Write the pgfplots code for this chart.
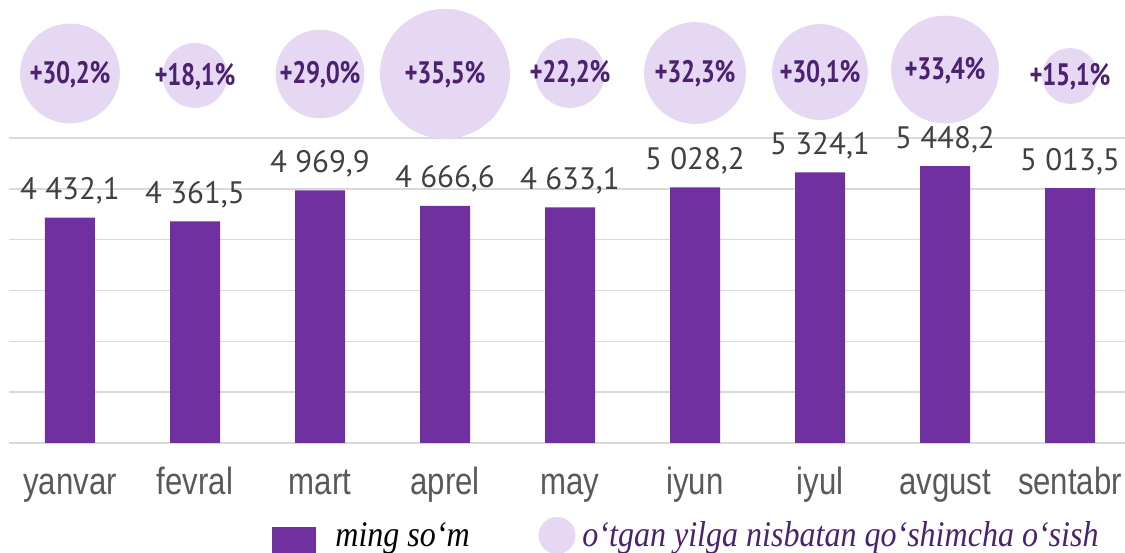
\documentclass[border=0pt]{standalone}
\usepackage{fontspec}
\usepackage{pgfplots}
\pgfplotsset{compat=1.18}
\usepackage{pgfplotstable}
\setmainfont{PT Sans}
\newfontfamily\narrowfont[FakeStretch=0.82]{Liberation Sans}
\newfontfamily\pctfont[FakeStretch=0.8,LetterSpace=-1]{PT Sans}
\newfontfamily\legfont[FakeStretch=0.89]{Liberation Serif}
\definecolor{barc}{HTML}{7030A0}
\definecolor{bub}{HTML}{E6D7F2}
\definecolor{pctc}{HTML}{4B2170}
\definecolor{labc}{HTML}{404040}
\definecolor{tickc}{HTML}{595959}
\definecolor{gridc}{HTML}{D9D9D9}

\pgfplotstableread{
x y
0 4432.1
1 4361.5
2 4969.9
3 4666.6
4 4633.1
5 5028.2
6 5324.1
7 5448.2
8 5013.5
}\barsdata

\pgfplotstableread{
x y pct d
0 7269 30.2 99
1 7230 18.1 64
2 7259 29.0 88
3 7263 35.5 129
4 7279 22.2 69
5 7279 32.3 101
6 7298 30.1 95
7 7348 33.4 107
8 7220 15.1 55
}\bubdata

\begin{document}
\begin{tikzpicture}
\path[use as bounding box] (0,0) rectangle (562.5pt,276pt);
\begin{axis}[
  at={(4.375pt,54.5pt)}, anchor=south west,
  scale only axis, width=561.875pt, height=152.5pt,
  xmin=-0.49, xmax=8.5, ymin=0, ymax=6000,
  clip=false,
  axis line style={draw=none},
  ytick={0,1000,...,6000}, yticklabels={},
  ymajorgrids, grid style={draw=gridc, line width=0.75pt},
  major tick length=0pt,
  xtick={0,...,8},
  xticklabels={yanvar,fevral,mart,aprel,may,iyun,iyul,avgust,sentabr},
  xticklabel style={font=\narrowfont\fontsize{19}{20}\selectfont, text=tickc, anchor=base, yshift=-25.5pt},
  /pgf/number format/assume math mode=true,
]
\addplot[ybar, bar width=25pt, fill=barc, draw=none,
  point meta=y,
  nodes near coords={\pgfmathprintnumber[fixed,fixed zerofill,precision=1,use comma,1000 sep={\ }]{\pgfplotspointmeta}},
  every node near coord/.append style={font=\fontsize{15.5}{16}\selectfont, text=labc, anchor=base, yshift=9pt},
] table[x=x,y=y]{\barsdata};
% bubbles
\addplot[scatter, only marks, mark=*,
  point meta=\thisrow{d},
  scatter/use mapped color={draw=bub, fill=bub},
  visualization depends on={\thisrow{d}/4 \as \rad},
  scatter/@pre marker code/.append style={/tikz/mark size=\rad pt},
] table[x=x,y=y]{\bubdata};
% bubble labels
\addplot[draw=none, mark=none,
  point meta=\thisrow{pct},
  nodes near coords={+\pgfmathprintnumber[fixed,fixed zerofill,precision=1,use comma]{\pgfplotspointmeta}\%},
  every node near coord/.append style={font=\pctfont\bfseries\fontsize{15.5}{16}\selectfont, text=pctc, anchor=base, yshift=-5pt},
] table[x=x,y=y]{\bubdata};
\end{axis}
\fill[barc] (136pt,12.5pt) rectangle (158pt,-10pt);
\node[anchor=base west, inner sep=0pt, font=\legfont\itshape\fontsize{18}{20}\selectfont] at (167.5pt,2.75pt) {ming so‘m};
\fill[bub] (278.5pt,8.25pt) circle (9.25pt);
\node[anchor=base west, inner sep=0pt, text=pctc, font=\legfont\itshape\fontsize{18}{20}\selectfont] at (291pt,2.75pt) {o‘tgan yilga nisbatan qo‘shimcha o‘sish};
\end{tikzpicture}
\end{document}
